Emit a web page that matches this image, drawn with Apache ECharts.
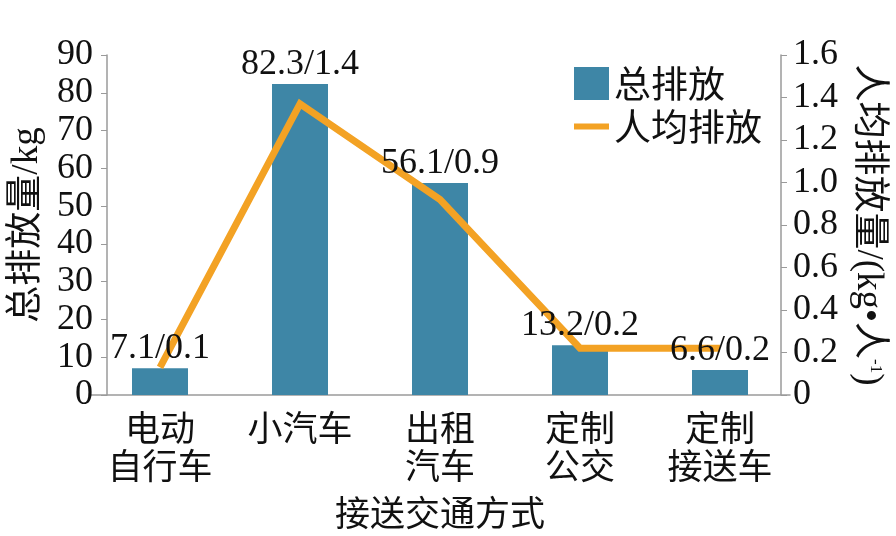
<!DOCTYPE html>
<html>
<head>
<meta charset="utf-8">
<script src="https://cdn.jsdelivr.net/npm/echarts@6/dist/echarts.min.js"></script>
<style>
  html, body { margin: 0; padding: 0; background: #fff; }
  #chart { width: 896px; height: 536px; }
</style>
</head>
<body>
<div id="chart"></div>
<script>
// 接送方式
var categories = ['电动\n自行车', '小汽车', '出租\n汽车', '定制\n公交', '定制\n接送车'];
// 总排放 / kg
var totalValues = [7.1, 82.3, 56.1, 13.2, 6.6];
// 人均排放 / (kg·人^-1)
var perCapitaValues = [0.13, 1.37, 0.92, 0.22, 0.22];
var leftTicks = [0, 90, 10];
var rightTicks = [0, 1.6, 0.2];

var FONT = '"Liberation Serif", "Noto Sans CJK SC", serif';
var CJK = '"Noto Sans CJK SC", "Liberation Serif", sans-serif';
var BAR_COLOR = '#3e86a6';
var LINE_COLOR = '#f3a224';
var AXIS_COLOR = '#9a9a9a';

var myChart = echarts.init(document.getElementById('chart'));

var option = {
    animation: false,
    textStyle: { fontFamily: FONT, color: '#111' },
    grid: { left: 90, right: 106, top: 55, bottom: 141 },
    legend: {
        orient: 'vertical',
        left: 569,
        top: 60,
        itemWidth: 35,
        itemHeight: 33,
        itemGap: 6,
        symbolKeepAspect: true,
        textStyle: { fontFamily: CJK, fontSize: 37, color: '#111' },
        data: [
            { name: '总排放', icon: 'rect' },
            { name: '人均排放', icon: 'path://M0,0L35,0L35,6L0,6Z' }
        ]
    },
    xAxis: {
        type: 'category',
        data: categories,
        name: '接送交通方式',
        nameLocation: 'middle',
        nameGap: 100,
        nameTextStyle: { fontFamily: CJK, fontSize: 35, color: '#111' },
        axisLine: { lineStyle: { color: AXIS_COLOR, width: 1.5 } },
        axisTick: { show: false },
        axisLabel: {
            fontFamily: CJK,
            fontSize: 35,
            lineHeight: 38,
            color: '#111',
            margin: 14,
            interval: 0
        }
    },
    yAxis: [
        {
            type: 'value',
            min: leftTicks[0],
            max: leftTicks[1],
            interval: leftTicks[2],
            offset: -17,
            name: '总排放量/kg',
            nameLocation: 'middle',
            nameRotate: 90,
            nameGap: 60,
            nameTextStyle: { fontFamily: FONT, fontSize: 37, color: '#111' },
            axisLine: { show: true, lineStyle: { color: AXIS_COLOR, width: 1.5 } },
            axisTick: { show: true, length: 6, lineStyle: { color: AXIS_COLOR } },
            splitLine: { show: false },
            axisLabel: { fontSize: 36, color: '#111', margin: 14 }
        },
        {
            type: 'value',
            min: rightTicks[0],
            max: rightTicks[1],
            interval: rightTicks[2],
            offset: -9,
            position: 'right',
            name: '人均排放量/(kg•人{sup|-1})',
            nameLocation: 'middle',
            nameRotate: -90,
            nameGap: 65,
            nameTextStyle: {
                fontFamily: FONT,
                fontSize: 37,
                color: '#111',
                rich: {
                    sup: { fontFamily: FONT, fontSize: 17, color: '#111', padding: [0, 0, 17, 0] }
                }
            },
            axisLine: { show: true, lineStyle: { color: AXIS_COLOR, width: 1.5 } },
            axisTick: { show: true, length: 6, lineStyle: { color: AXIS_COLOR } },
            splitLine: { show: false },
            axisLabel: {
                fontSize: 36,
                color: '#111',
                margin: 12,
                formatter: function (v) {
                    return v === 0 ? '0' : v.toFixed(1);
                }
            }
        }
    ],
    series: [
        {
            name: '总排放',
            type: 'bar',
            yAxisIndex: 0,
            barWidth: 56,
            z: 2,
            itemStyle: { color: BAR_COLOR },
            data: totalValues
        },
        {
            name: '人均排放',
            type: 'line',
            yAxisIndex: 1,
            symbol: 'none',
            lineStyle: { color: LINE_COLOR, width: 7, join: 'miter' },
            itemStyle: { color: LINE_COLOR },
            z: 5,
            data: perCapitaValues
        },
        {
            // 柱顶标注（放在折线之上）
            name: '标注',
            type: 'scatter',
            yAxisIndex: 0,
            symbolSize: 0,
            silent: true,
            z: 10,
            itemStyle: { opacity: 1, color: 'rgba(0,0,0,0)' },
            label: {
                show: true,
                position: 'top',
                distance: 2,
                fontFamily: FONT,
                fontSize: 36,
                color: '#111',
                formatter: function (p) {
                    return totalValues[p.dataIndex].toFixed(1) + '/' + perCapitaValues[p.dataIndex].toFixed(1);
                }
            },
            data: totalValues
        }
    ]
};

myChart.setOption(option);
</script>
</body>
</html>
